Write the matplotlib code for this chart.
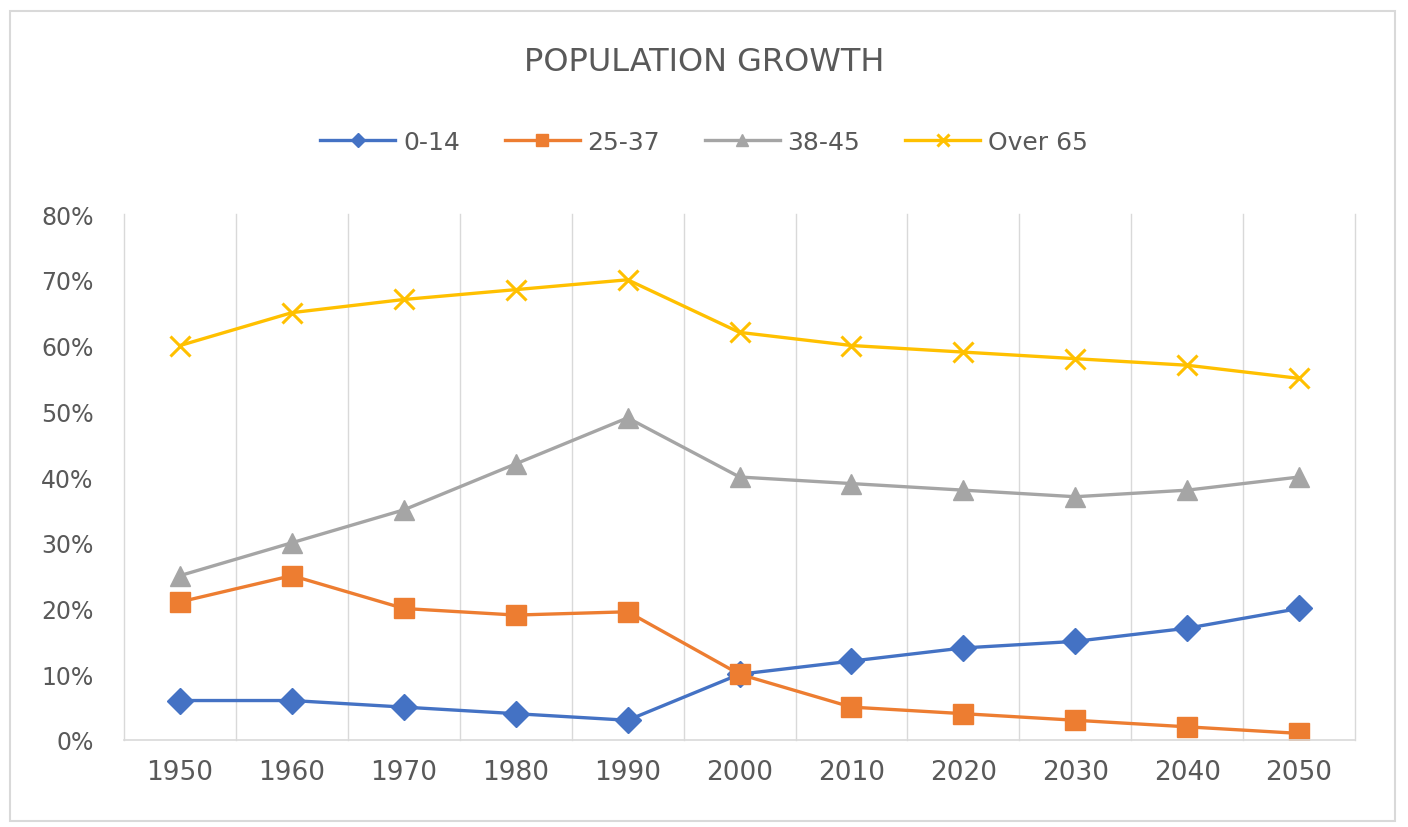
import numpy as np
import matplotlib.pyplot as plt
from matplotlib.patches import Rectangle

# Data
years = ["1950", "1960", "1970", "1980", "1990", "2000",
         "2010", "2020", "2030", "2040", "2050"]
age_0_14 = [6, 6, 5, 4, 3, 10, 12, 14, 15, 17, 20]
age_25_37 = [21, 25, 20, 19, 19.5, 10, 5, 4, 3, 2, 1]
age_38_45 = [25, 30, 35, 42, 49, 40, 39, 38, 37, 38, 40]
over_65 = [60, 65, 67, 68.5, 70, 62, 60, 59, 58, 57, 55]
y_ticks = [0, 10, 20, 30, 40, 50, 60, 70, 80]

text_col = "#595959"
plt.rcParams["font.family"] = ["DejaVu Sans"]

fig = plt.figure(figsize=(14.08, 8.28), dpi=100)
fig.patches.append(Rectangle((0.007, 0.007), 0.984, 0.978, transform=fig.transFigure,
                             fill=False, edgecolor="#d9d9d9", linewidth=1.5))
ax = fig.add_axes([0.0881, 0.1051, 0.8743, 0.6352])

x = np.arange(len(years))
ax.plot(x, age_0_14, color="#4472C4", lw=2.4, marker="D", ms=13, label="0-14")
ax.plot(x, age_25_37, color="#ED7D31", lw=2.4, marker="s", ms=15, label="25-37")
ax.plot(x, age_38_45, color="#A5A5A5", lw=2.4, marker="^", ms=15, label="38-45")
ax.plot(x, over_65, color="#FFC000", lw=2.4, marker="x", ms=15, mew=2.2, label="Over 65")

ax.set_xlim(-0.5, len(years) - 0.5)
ax.set_ylim(0, 80)
ax.set_xticks(x)
ax.set_xticklabels(years)
ax.set_yticks(y_ticks)
ax.set_yticklabels([f"{v}%" for v in y_ticks])

# vertical gridlines between the categories, like Excel
ax.set_xticks(np.arange(-0.5, len(years), 1), minor=True)
ax.grid(which="minor", axis="x", color="#d9d9d9", lw=1)
for t in ax.xaxis.get_minor_ticks():
    t.gridline.set_clip_on(False)
ax.tick_params(which="both", length=0)
ax.tick_params(axis="y", pad=22, labelsize=17, labelcolor=text_col)
ax.tick_params(axis="x", pad=14, labelsize=19, labelcolor=text_col)

for s in ["top", "right", "left"]:
    ax.spines[s].set_visible(False)
ax.spines["bottom"].set_color("#d9d9d9")
ax.spines["bottom"].set_linewidth(1.2)

fig.text(0.5, 0.925, "POPULATION GROWTH", ha="center", va="center",
         fontsize=23, color=text_col)
fig.legend(loc="center", bbox_to_anchor=(0.5, 0.827), ncol=4, frameon=False,
           fontsize=18, labelcolor=text_col, markerscale=0.55,
           handlelength=3.0, handletextpad=0.3, columnspacing=1.8)

fig.savefig("out.png", dpi=100)
